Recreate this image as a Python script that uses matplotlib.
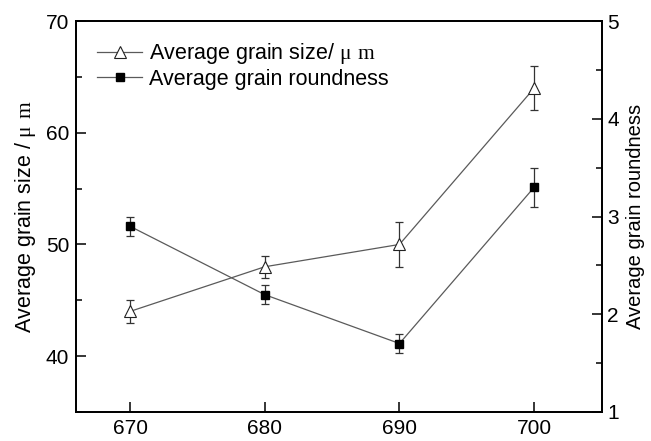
import numpy as np
import matplotlib
matplotlib.use("Agg")
import matplotlib.pyplot as plt
from matplotlib.ticker import MultipleLocator

plt.rcParams['font.family'] = ['Liberation Sans', 'DejaVu Sans']
plt.rcParams['mathtext.fontset'] = 'custom'
plt.rcParams['mathtext.rm'] = 'Liberation Serif'

# data
temperature = [670, 680, 690, 700]
grain_size = [44, 48, 50, 64]
grain_size_err = [1, 1, 2, 2]
roundness = [2.9, 2.2, 1.7, 3.3]
roundness_err = [0.1, 0.1, 0.1, 0.2]

fig = plt.figure(figsize=(6.51, 4.41), dpi=100)
ax = fig.add_axes([0.117, 0.066, 0.807, 0.886])
ax2 = ax.twinx()

line_col = '#5a5a5a'
err_col = '#333333'

ax.errorbar(temperature, grain_size, yerr=grain_size_err, fmt='none',
            ecolor=err_col, elinewidth=0.9, capsize=3, capthick=0.9)
l1, = ax.plot(temperature, grain_size, color=line_col, lw=0.9,
              marker='^', ms=8, mfc='white', mec='#222222', mew=0.8,
              label='Average grain size/ $\\mathrm{μ\\ m}$')

ax2.errorbar(temperature, roundness, yerr=roundness_err, fmt='none',
             ecolor=err_col, elinewidth=0.9, capsize=3, capthick=0.9)
l2, = ax2.plot(temperature, roundness, color=line_col, lw=0.9,
               marker='s', ms=6, mfc='black', mec='black',
               label='Average grain roundness')

ax.set_xlim(666, 705)
ax.set_ylim(35, 70)
ax2.set_ylim(1, 5)
ax.set_xticks(temperature)
ax.yaxis.set_major_locator(MultipleLocator(10))
ax.yaxis.set_minor_locator(MultipleLocator(5))
ax2.yaxis.set_major_locator(MultipleLocator(1))
ax2.yaxis.set_minor_locator(MultipleLocator(0.5))

for a in (ax, ax2):
    for s in a.spines.values():
        s.set_linewidth(1.3)
    a.tick_params(direction='in', labelsize=15, width=1.1, length=7, pad=5)
    a.tick_params(which='minor', direction='in', width=1.1, length=4)
ax2.tick_params(axis='y', pad=4)

ax.set_ylabel('Average grain size / $\\mathrm{μ\\ m}$', fontsize=15.5, labelpad=6)
ax2.set_ylabel('Average grain roundness', fontsize=14.5, labelpad=5)

ax.legend(handles=[l1, l2], loc='upper left', frameon=False, fontsize=15.5,
          handlelength=2.1, handletextpad=0.3, labelspacing=0.12,
          borderpad=0, borderaxespad=0, bbox_to_anchor=(0.04, 0.949))

fig.savefig('out.png', dpi=100)
